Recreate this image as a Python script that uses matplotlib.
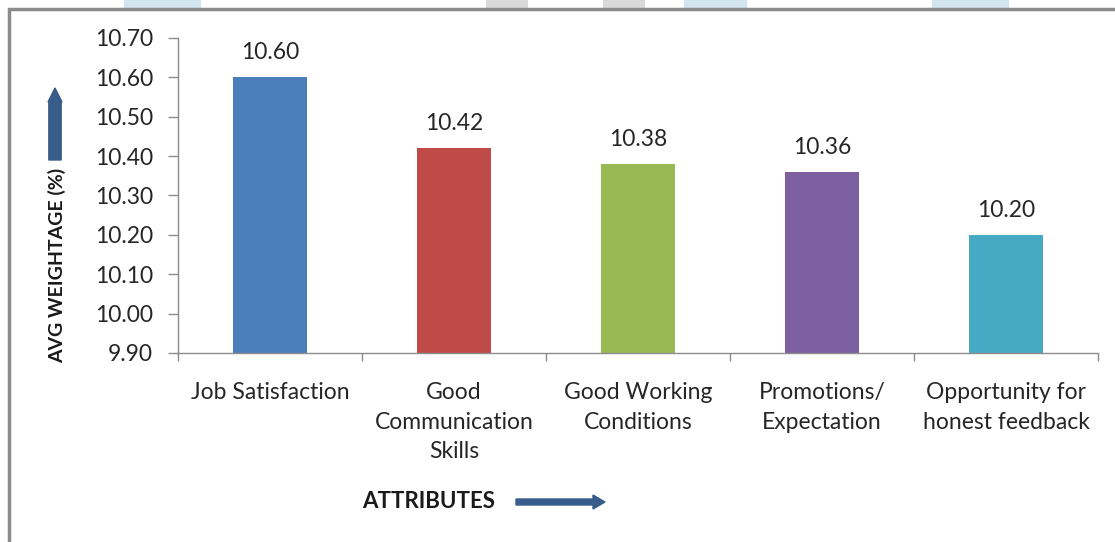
import matplotlib
matplotlib.use('Agg')
import matplotlib.pyplot as plt
from matplotlib.patches import Rectangle, FancyArrow

plt.rcParams['font.family'] = ['Lato', 'DejaVu Sans']

categories = ['Job Satisfaction', 'Good\nCommunication\nSkills',
              'Good Working\nConditions', 'Promotions/\nExpectation',
              'Opportunity for\nhonest feedback']
weights = [10.60, 10.42, 10.38, 10.36, 10.20]
bar_colors = ['#4A7EBB', '#BE4B48', '#98B954', '#7D60A0', '#46AAC5']
y_ticks = [9.90, 10.00, 10.10, 10.20, 10.30, 10.40, 10.50, 10.60, 10.70]

W, H = 1115, 542
fig = plt.figure(figsize=(W / 100, H / 100), dpi=100)


def fx(px):
    return px / W


def fy(py):
    return 1 - py / H


# strips of the page peeking above the chart frame
for x0, x1, c in [(124, 201, '#D2E6F0'), (486, 528, '#D9D9D9'),
                  (603, 645, '#D9D9D9'), (684, 747, '#D2E6F0'),
                  (932, 1009, '#D2E6F0')]:
    fig.add_artist(Rectangle((fx(x0), fy(9)), fx(x1 - x0), 9 / H,
                             transform=fig.transFigure, color=c, lw=0))

# chart frame, runs off the right and bottom edges
fig.add_artist(Rectangle((fx(9), -0.1), 1.2, fy(9) + 0.1,
                         transform=fig.transFigure, fill=False,
                         edgecolor='#8C8C8C', lw=2.5))

ax = fig.add_axes([fx(178), fy(353), fx(1098 - 178), (353 - 38) / H])

x = list(range(len(categories)))
ax.bar(x, [w - 9.90 for w in weights], bottom=9.90, width=0.4,
       color=bar_colors, zorder=2)
for xi, w in zip(x, weights):
    ax.text(xi, w + 0.036, '{:.2f}'.format(w), ha='center', va='bottom',
            fontsize=16.5, color='#262626')

ax.set_xlim(-0.5, len(categories) - 0.5)
ax.set_ylim(9.90, 10.70)
ax.set_yticks(y_ticks)
ax.set_yticklabels(['{:.2f}'.format(t) for t in y_ticks])
ax.set_xticks(x)
ax.set_xticklabels(categories, linespacing=1.5)
ax.set_xticks([i - 0.5 for i in range(len(categories) + 1)], minor=True)

for s in ['top', 'right']:
    ax.spines[s].set_visible(False)
for s in ['left', 'bottom']:
    ax.spines[s].set_color('#8C8C8C')
    ax.spines[s].set_linewidth(1)

ax.tick_params(axis='y', direction='out', length=7, width=1,
               color='#8C8C8C', labelsize=16.5, labelcolor='#262626', pad=11)
ax.tick_params(axis='x', which='major', length=0, labelsize=16.5,
               labelcolor='#262626', pad=21)
ax.tick_params(axis='x', which='minor', direction='out', length=6,
               width=1, color='#8C8C8C')

# axis titles with their arrows
fig.text(fx(57), fy(265), 'AVG WEIGHTAGE (%)', rotation=90, ha='center',
         va='center', fontsize=14, fontweight='bold', color='#1A1A1A')
fig.add_artist(FancyArrow(fx(55), fy(160), 0, (160 - 88) / H,
                          width=6 / H, head_width=14 / W, head_length=14 / H,
                          length_includes_head=True, color='#385D8A',
                          transform=fig.transFigure))
fig.text(fx(362), fy(502), 'ATTRIBUTES', ha='left', va='center',
         fontsize=16, fontweight='bold', color='#1A1A1A')
fig.add_artist(FancyArrow(fx(516), fy(502), (605 - 516) / W, 0,
                          width=6 / H, head_width=14 / H, head_length=12 / W,
                          length_includes_head=True, color='#385D8A',
                          transform=fig.transFigure))

fig.savefig('out.png', dpi=100)
